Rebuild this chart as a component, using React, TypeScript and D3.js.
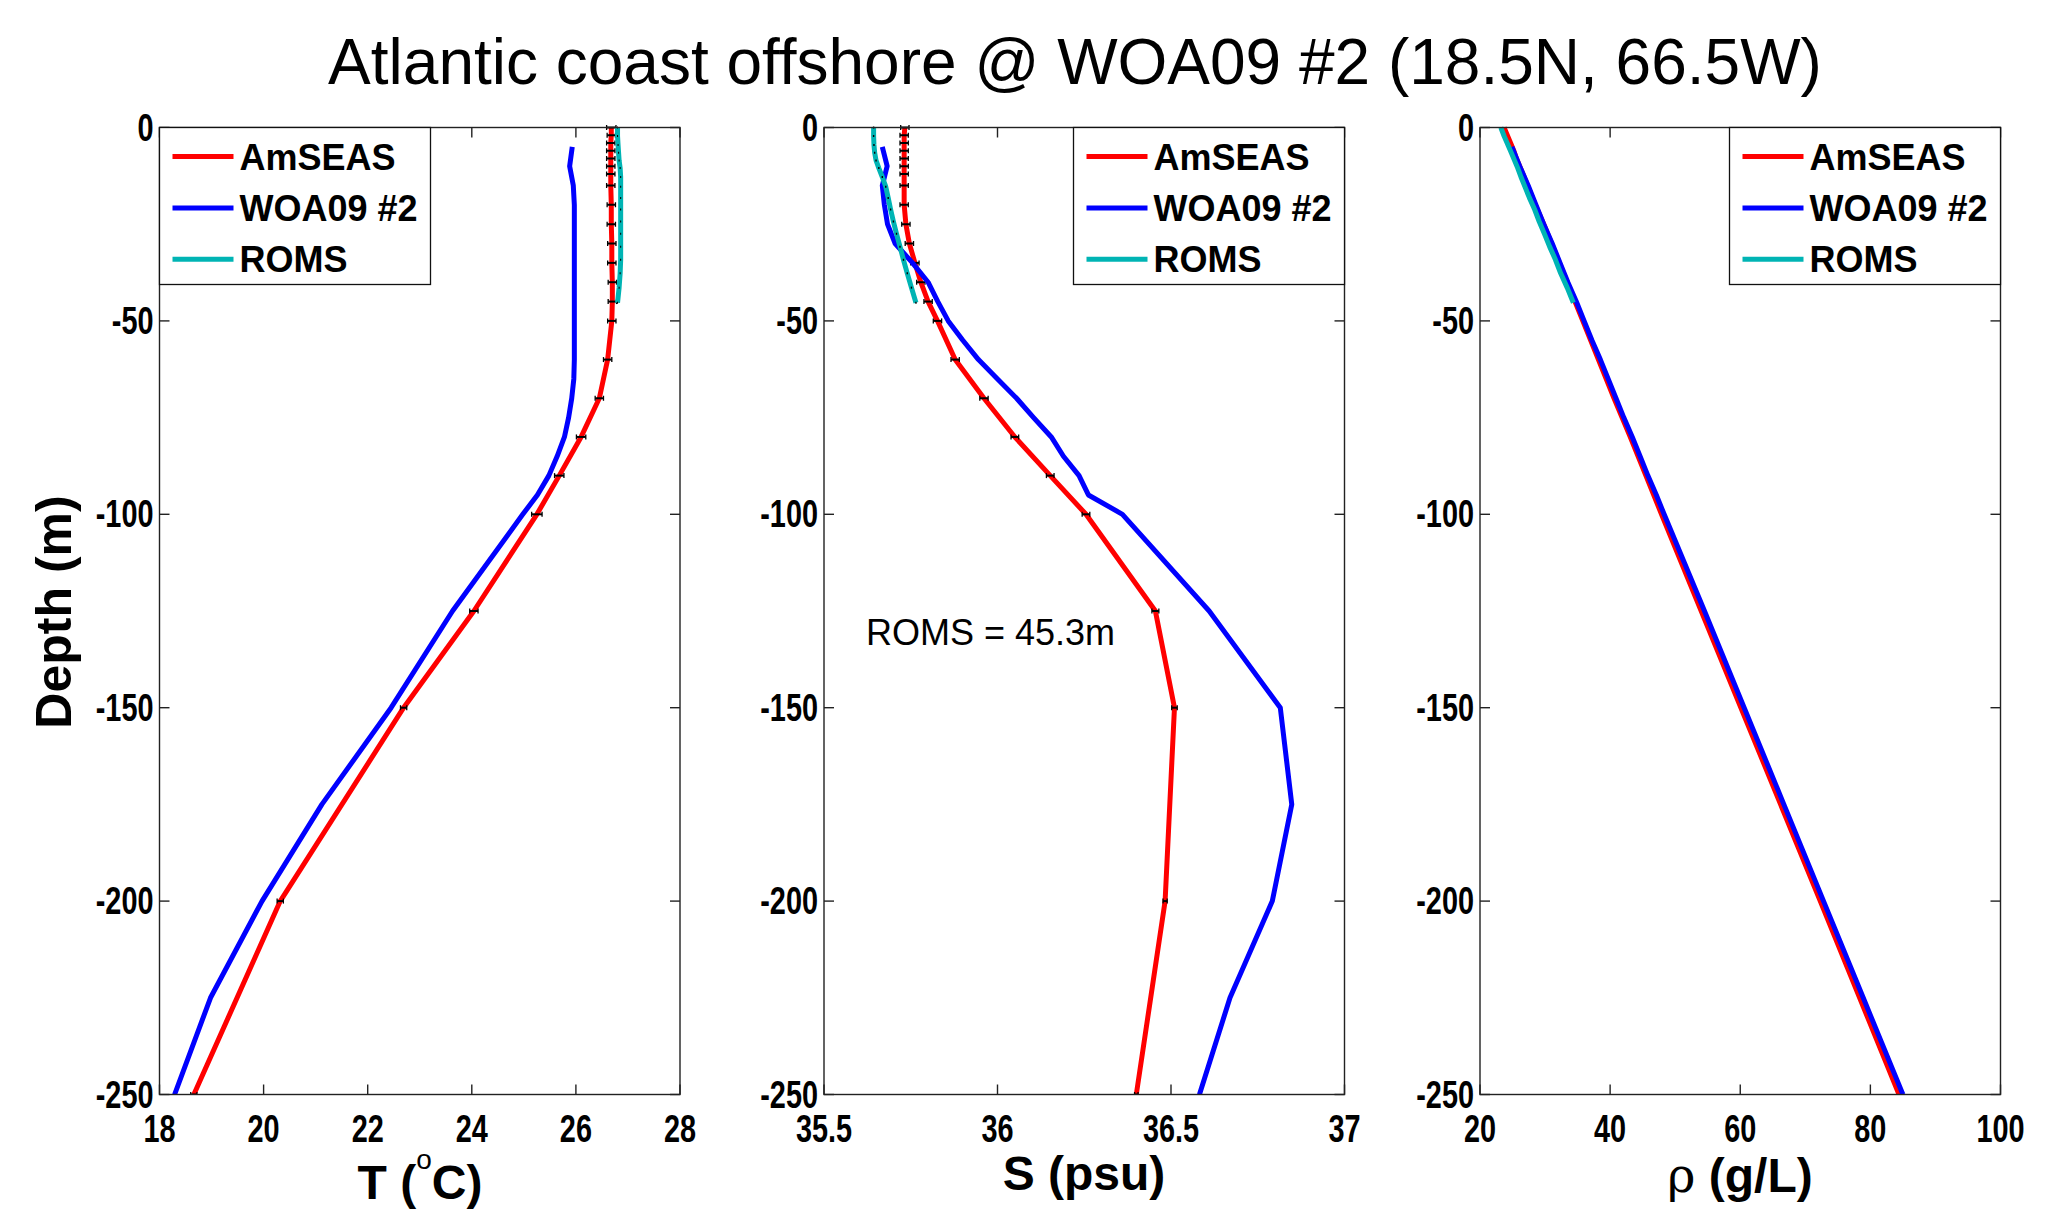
import React from "react";
import * as d3 from "d3";

// ---------------- DATA ----------------
const TITLE = "Atlantic coast offshore @ WOA09 #2 (18.5N, 66.5W)";
const SERIES_NAMES = ["AmSEAS", "WOA09 #2", "ROMS"];
const SERIES_COLORS = ["#ff0000", "#0000ff", "#00b4b4"];

// AmSEAS (NCOM levels), depth in m (positive down)
const DEPTH_AMSEAS = [0, 2, 4, 6, 8, 10, 12, 15, 20, 25, 30, 35, 40, 45, 50, 60, 70, 80, 90, 100, 125, 150, 200, 250];
const T_AMSEAS = [26.68, 26.68, 26.67, 26.67, 26.67, 26.67, 26.67, 26.67, 26.68, 26.68, 26.69, 26.69, 26.70, 26.70, 26.69, 26.61, 26.45, 26.10, 25.68, 25.25, 24.04, 22.69, 20.32, 18.66];
const S_AMSEAS = [35.733, 35.731, 35.731, 35.731, 35.731, 35.731, 35.731, 35.731, 35.731, 35.736, 35.746, 35.762, 35.779, 35.800, 35.827, 35.878, 35.961, 36.050, 36.152, 36.255, 36.455, 36.510, 36.483, 36.400];
const RHO_AMSEAS = [23.7, 24.2, 24.7, 25.2, 25.6, 26.1, 26.6, 27.3, 28.5, 29.8, 31.0, 32.2, 33.4, 34.6, 35.8, 38.2, 40.6, 43.1, 45.5, 47.9, 54.0, 60.1, 72.3, 84.4];
const ERR_T_AMSEAS = [0.09, 0.08, 0.08, 0.08, 0.08, 0.08, 0.08, 0.08, 0.08, 0.08, 0.08, 0.08, 0.08, 0.08, 0.08, 0.08, 0.08, 0.09, 0.09, 0.1, 0.08, 0.06, 0.06, 0.06];
const ERR_S_AMSEAS = [0.012, 0.012, 0.012, 0.012, 0.012, 0.012, 0.012, 0.012, 0.012, 0.012, 0.012, 0.012, 0.012, 0.012, 0.012, 0.012, 0.012, 0.011, 0.011, 0.011, 0.01, 0.008, 0.006, 0.005];

// WOA09 #2
const DEPTH_WOA = [5, 10, 15, 20, 25, 30, 35, 40, 45, 50, 55, 60, 65, 70, 75, 80, 85, 90, 95, 100, 125, 150, 175, 200, 225, 250];
const T_WOA = [25.93, 25.88, 25.95, 25.97, 25.97, 25.97, 25.97, 25.97, 25.97, 25.97, 25.97, 25.97, 25.96, 25.92, 25.86, 25.78, 25.64, 25.48, 25.26, 24.98, 23.63, 22.45, 21.12, 19.97, 18.98, 18.29];
const S_WOA = [35.668, 35.682, 35.668, 35.674, 35.683, 35.705, 35.755, 35.800, 35.828, 35.858, 35.900, 35.945, 36.000, 36.055, 36.104, 36.155, 36.190, 36.235, 36.262, 36.360, 36.610, 36.815, 36.848, 36.792, 36.670, 36.582];
const RHO_WOA = [24.9, 26.1, 27.4, 28.6, 29.8, 31.1, 32.3, 33.5, 34.8, 36.0, 37.2, 38.5, 39.7, 40.9, 42.1, 43.4, 44.6, 45.8, 47.1, 48.3, 54.5, 60.6, 66.7, 72.8, 78.9, 85.0];

// ROMS (bottom = 45.3 m)
const DEPTH_ROMS = [0, 2.2, 4.5, 6.5, 8.5, 10.5, 12.8, 15.3, 18.2, 21.2, 24.3, 27.5, 30.8, 34.2, 37.7, 41.4, 45.3];
const T_ROMS = [26.80, 26.80, 26.81, 26.82, 26.83, 26.85, 26.86, 26.86, 26.86, 26.86, 26.86, 26.86, 26.86, 26.86, 26.85, 26.83, 26.80];
const S_ROMS = [35.643, 35.643, 35.644, 35.646, 35.650, 35.658, 35.668, 35.678, 35.685, 35.692, 35.700, 35.709, 35.719, 35.729, 35.740, 35.752, 35.765];
const RHO_ROMS = [23.2, 23.7, 24.3, 24.8, 25.3, 25.8, 26.3, 26.9, 27.6, 28.4, 29.1, 29.9, 30.7, 31.6, 32.4, 33.4, 34.35];
const ERR_T_ROMS = [0.01, 0.01, 0.01, 0.01, 0.01, 0.01, 0.01, 0.01, 0.01, 0.01, 0.01, 0.01, 0.01, 0.01, 0.01, 0.01, 0.01];
const ERR_S_ROMS = [0.002, 0.002, 0.002, 0.002, 0.002, 0.002, 0.002, 0.002, 0.002, 0.002, 0.002, 0.002, 0.002, 0.002, 0.002, 0.002, 0.002];

const T_TICKS = [18, 20, 22, 24, 26, 28];
const S_TICKS = [35.5, 36, 36.5, 37];
const S_TICK_LABELS = ["35.5", "36", "36.5", "37"];
const RHO_TICKS = [20, 40, 60, 80, 100];
const DEPTH_TICKS = [0, -50, -100, -150, -200, -250];
const ANNOTATION = "ROMS = 45.3m";

// ---------------- LAYOUT ----------------
const W = 2063;
const H = 1211;
const Y0 = 127.5;
const Y1 = 1094.5;
const PW = 520.5;
const TICK_FONT = "'Liberation Sans', Arial, Helvetica, sans-serif";
const LW = 5;

type Panel = {
  x0: number;
  domain: [number, number];
  ticks: number[];
  tickLabels: string[];
  legendLeft: boolean;
  series: { depth: number[]; val: number[]; err?: number[]; errCap?: boolean }[];
};

const yScale = d3.scaleLinear().domain([-250, 0]).range([Y1, Y0]);

function CondText({ x, y, anchor, children }: any) {
  return (
    <text
      transform={`translate(${x},${y}) scale(0.76,1)`}
      textAnchor={anchor}
      fontFamily={TICK_FONT}
      fontWeight="bold"
      fontSize={38}
      fill="#000"
    >
      {children}
    </text>
  );
}

function PanelView({ p, children }: { p: Panel; children?: any }) {
  const x1 = p.x0 + PW;
  const xs = d3.scaleLinear().domain(p.domain).range([p.x0, x1]);
  const line = d3
    .line<[number, number]>()
    .x((d) => xs(d[0]))
    .y((d) => yScale(-d[1]));
  const tl = 10;
  const legW = 271;
  const legH = 157;
  const legX = p.legendLeft ? p.x0 : x1 - legW;
  const rows = [29, 80.4, 131.7];
  return (
    <g>
      <defs>
        <clipPath id={`clip${Math.round(p.x0)}`}>
          <rect x={p.x0} y={Y0 - 3} width={PW} height={Y1 - Y0 + 3} />
        </clipPath>
      </defs>
      <g clipPath={`url(#clip${Math.round(p.x0)})`}>
        {p.series.map((s, si) => {
          const pts = s.depth.map((d, i) => [s.val[i], d] as [number, number]);
          return (
            <g key={si}>
              <path
                d={line(pts) || ""}
                fill="none"
                stroke={SERIES_COLORS[si]}
                strokeWidth={LW}
                strokeLinejoin="round"
              />
              {s.err &&
                pts.map((pt, i) => {
                  const xa = xs(pt[0] - s.err![i]);
                  const xb = xs(pt[0] + s.err![i]);
                  const yy = yScale(-pt[1]);
                  return (
                    <g key={i} stroke="#000" strokeWidth={2}>
                      <line x1={xa} x2={xb} y1={yy} y2={yy} />
                      {s.errCap && (
                        <>
                          <line x1={xa} x2={xa} y1={yy - 2.5} y2={yy + 2.5} strokeWidth={1.3} />
                          <line x1={xb} x2={xb} y1={yy - 2.5} y2={yy + 2.5} strokeWidth={1.3} />
                        </>
                      )}
                    </g>
                  );
                })}
            </g>
          );
        })}
      </g>
      <rect x={p.x0} y={Y0} width={PW} height={Y1 - Y0} fill="none" stroke="#222" strokeWidth={1.4} />
      {p.ticks.map((t, i) => (
        <g key={`xt${i}`} stroke="#222" strokeWidth={1.4}>
          <line x1={xs(t)} x2={xs(t)} y1={Y1} y2={Y1 - tl} />
          <line x1={xs(t)} x2={xs(t)} y1={Y0} y2={Y0 + tl} />
        </g>
      ))}
      {DEPTH_TICKS.map((t, i) => (
        <g key={`yt${i}`} stroke="#222" strokeWidth={1.4}>
          <line x1={p.x0} x2={p.x0 + tl} y1={yScale(t)} y2={yScale(t)} />
          <line x1={x1} x2={x1 - tl} y1={yScale(t)} y2={yScale(t)} />
        </g>
      ))}
      {p.ticks.map((t, i) => (
        <CondText key={`xl${i}`} x={xs(t)} y={1142} anchor="middle">
          {p.tickLabels[i]}
        </CondText>
      ))}
      {DEPTH_TICKS.map((t, i) => (
        <CondText key={`yl${i}`} x={p.x0 - 6} y={yScale(t) + 13} anchor="end">
          {String(t)}
        </CondText>
      ))}
      <rect x={legX} y={Y0} width={legW} height={legH} fill="#fff" stroke="#111" strokeWidth={1.3} />
      {SERIES_NAMES.map((n, i) => (
        <g key={n}>
          <line
            x1={legX + 13}
            x2={legX + 74}
            y1={Y0 + rows[i]}
            y2={Y0 + rows[i]}
            stroke={SERIES_COLORS[i]}
            strokeWidth={LW}
          />
          <text
            x={legX + 80}
            y={Y0 + rows[i] + 13}
            fontFamily={TICK_FONT}
            fontWeight="bold"
            fontSize={36}
            fill="#000"
          >
            {n}
          </text>
        </g>
      ))}
      {children}
    </g>
  );
}

export default function App() {
  const panels: Panel[] = [
    {
      x0: 159.5,
      domain: [18, 28],
      ticks: T_TICKS,
      tickLabels: T_TICKS.map(String),
      legendLeft: true,
      series: [
        { depth: DEPTH_AMSEAS, val: T_AMSEAS, err: ERR_T_AMSEAS, errCap: true },
        { depth: DEPTH_WOA, val: T_WOA },
        { depth: DEPTH_ROMS, val: T_ROMS, err: ERR_T_ROMS },
      ],
    },
    {
      x0: 824,
      domain: [35.5, 37],
      ticks: S_TICKS,
      tickLabels: S_TICK_LABELS,
      legendLeft: false,
      series: [
        { depth: DEPTH_AMSEAS, val: S_AMSEAS, err: ERR_S_AMSEAS, errCap: true },
        { depth: DEPTH_WOA, val: S_WOA },
        { depth: DEPTH_ROMS, val: S_ROMS, err: ERR_S_ROMS },
      ],
    },
    {
      x0: 1480,
      domain: [20, 100],
      ticks: RHO_TICKS,
      tickLabels: RHO_TICKS.map(String),
      legendLeft: false,
      series: [
        { depth: DEPTH_AMSEAS, val: RHO_AMSEAS },
        { depth: DEPTH_WOA, val: RHO_WOA },
        { depth: DEPTH_ROMS, val: RHO_ROMS },
      ],
    },
  ];
  const font = TICK_FONT;
  return (
    <svg
      width={W}
      height={H}
      viewBox={`0 0 ${W} ${H}`}
      style={{ position: "absolute", left: 0, top: 0, background: "#fff" }}
    >
      <rect x={0} y={0} width={W} height={H} fill="#fff" />
      <text x={1075} y={84} textAnchor="middle" fontFamily={font} fontSize={64} fill="#000">
        {TITLE}
      </text>
      {panels.map((p, i) => (
        <PanelView key={i} p={p}>
          {i === 1 && (
            <text x={866} y={645} fontFamily={font} fontSize={36} fill="#000">
              {ANNOTATION}
            </text>
          )}
        </PanelView>
      ))}
      <text
        transform="translate(71,612) rotate(-90)"
        textAnchor="middle"
        fontFamily={font}
        fontWeight="bold"
        fontSize={50}
        fill="#000"
      >
        Depth (m)
      </text>
      <text x={420} y={1199} textAnchor="middle" fontFamily={font} fontWeight="bold" fontSize={48} fill="#000">
        T (<tspan fontWeight="normal" fontSize={28} dy={-30}>o</tspan>
        <tspan dy={30}>C)</tspan>
      </text>
      <text x={1084} y={1190} textAnchor="middle" fontFamily={font} fontWeight="bold" fontSize={48} fill="#000">
        S (psu)
      </text>
      <text x={1740} y={1192} textAnchor="middle" fontFamily={font} fontWeight="bold" fontSize={48} fill="#000">
        <tspan fontWeight="normal" fontFamily="'DejaVu Serif', serif">ρ</tspan> (g/L)
      </text>
    </svg>
  );
}
